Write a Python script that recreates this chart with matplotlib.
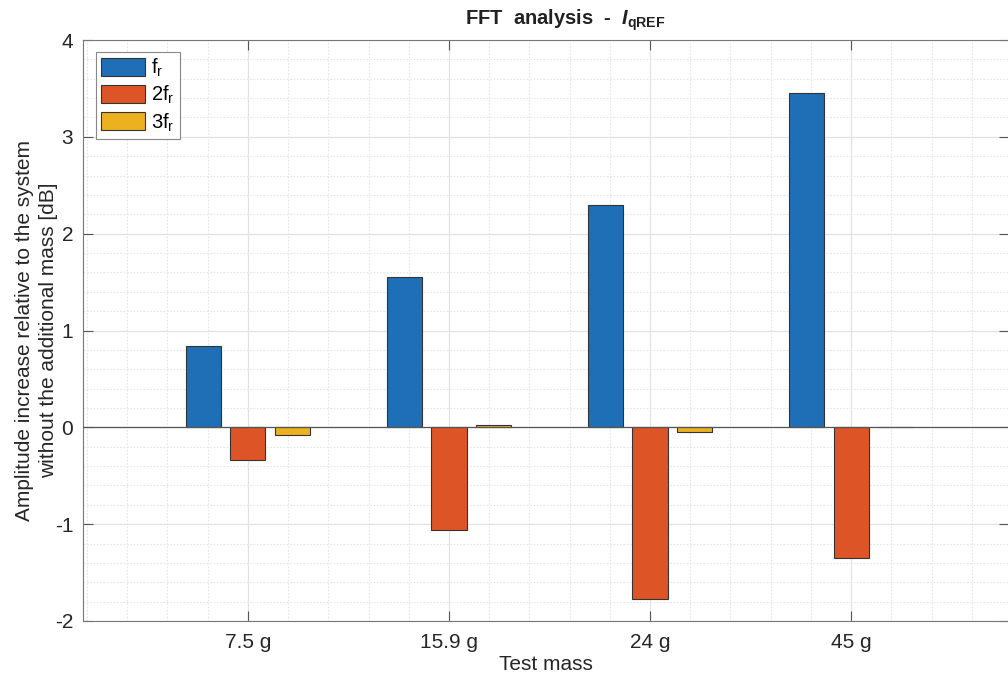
import numpy as np
import matplotlib
matplotlib.use('Agg')
import matplotlib.pyplot as plt
from matplotlib.ticker import MultipleLocator

plt.rcParams['font.family'] = ['Liberation Sans', 'DejaVu Sans']
plt.rcParams['mathtext.fontset'] = 'custom'
plt.rcParams['mathtext.rm'] = 'Liberation Sans'
plt.rcParams['mathtext.it'] = 'Liberation Sans:bold:italic'
plt.rcParams['mathtext.bf'] = 'Liberation Sans:bold'
plt.rcParams['axes.unicode_minus'] = False

# test masses and amplitude change per harmonic [dB]
masses = ['7.5 g', '15.9 g', '24 g', '45 g']
fr = [0.84, 1.55, 2.30, 3.45]
fr2 = [-0.34, -1.06, -1.77, -1.35]
fr3 = [-0.08, 0.02, -0.05, 0.005]
labels = [r'f$_\mathrm{r}$', r'2f$_\mathrm{r}$', r'3f$_\mathrm{r}$']
colors = ['#1f6fb7', '#dd5426', '#ecb120']

x = np.arange(1, len(masses) + 1)
w = 0.175
off = 0.222

fig = plt.figure(figsize=(10.08, 6.75), dpi=100)
ax = fig.add_axes([83 / 1008, 1 - 621 / 675, 926 / 1008, 581 / 675])

for i, (vals, lab, c) in enumerate(zip([fr, fr2, fr3], labels, colors)):
    ax.bar(x + (i - 1) * off, vals, w, color=c, edgecolor='#333333',
           linewidth=0.8, label=lab, zorder=3)

ax.axhline(0, color='#555555', linewidth=0.9, zorder=4)

ax.set_xlim(0.18, 4.785)
ax.set_ylim(-2, 4)
ax.set_xticks(x)
ax.set_xticklabels(masses)
ax.yaxis.set_major_locator(MultipleLocator(1))
ax.xaxis.set_minor_locator(MultipleLocator(0.2))
ax.yaxis.set_minor_locator(MultipleLocator(0.2))

ax.grid(which='major', color='#e2e2e2', linewidth=0.9, zorder=0)
ax.grid(which='minor', color='#e6e6e6', linewidth=0.8, linestyle=(0, (1.5, 1.5)), zorder=0)
ax.set_axisbelow(True)

ax.tick_params(which='major', direction='in', length=7, width=0.8, color='#555555',
               labelsize=15, labelcolor='#262626', top=True, right=True, pad=7)
ax.tick_params(axis='x', which='major', pad=9)
ax.tick_params(which='minor', length=0)
for s in ax.spines.values():
    s.set_color('#777777')
    s.set_linewidth(0.8)

ax.set_xlabel('Test mass', fontsize=15, color='#262626', labelpad=2)
ax.set_ylabel('Amplitude increase relative to the system\nwithout the additional mass [dB]',
              fontsize=15, color='#262626', labelpad=-2, linespacing=1.3)
ax.set_title(r'FFT  analysis  -  $I_{\mathbf{qREF}}$', fontsize=14.5, fontweight='bold',
             color='#222222', pad=11, x=0.521)

leg = ax.legend(loc='upper left', bbox_to_anchor=(0.014, 0.98), fontsize=14.5,
                handlelength=2.2, handleheight=1.0, handletextpad=0.3,
                labelspacing=0.25, borderpad=0.25, fancybox=False,
                framealpha=1, edgecolor='#888888', borderaxespad=0)
leg.get_frame().set_linewidth(0.8)

fig.savefig('out.png', dpi=100)
